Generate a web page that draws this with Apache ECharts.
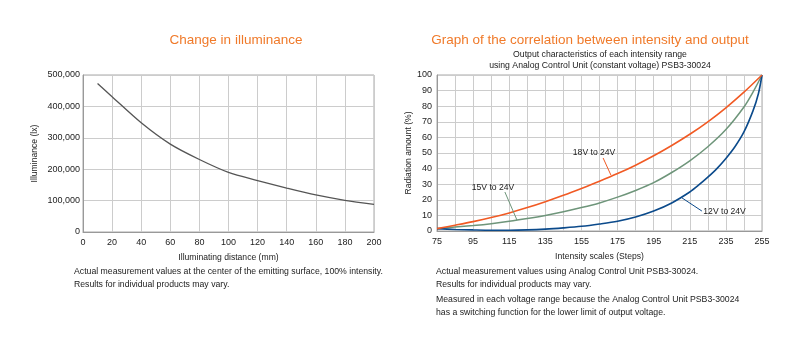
<!DOCTYPE html>
<html><head><meta charset="utf-8">
<script src="https://cdn.jsdelivr.net/npm/echarts@6/dist/echarts.min.js"></script>
<style>html,body{margin:0;padding:0;background:#fff}#c{width:800px;height:348px}</style>
</head><body><div id="c"></div>
<script>
// ---- Left chart data ----
const distance = [10, 20, 40, 60, 80, 100, 120, 140, 160, 180, 200];
const illuminance = [473000, 431000, 348000, 280000, 231000, 190000, 164000, 140000, 118000, 101000, 88000];

// ---- Right chart data ----
const steps18 = [75, 85, 95, 105, 115, 125, 135, 145, 155, 165, 175, 185, 195, 205, 215, 225, 235, 245, 255];
const out18   = [1.5, 3.7, 6.0, 8.6, 11.6, 15.0, 18.8, 22.9, 27.3, 31.9, 36.8, 42.2, 48.2, 54.8, 62, 70, 79, 89, 100];
const steps15 = [75, 85, 95, 105, 115, 125, 135, 145, 155, 165, 175, 185, 195, 205, 215, 225, 235, 245, 250, 255];
const out15   = [1.5, 2.5, 3.5, 4.7, 6.2, 8, 10, 12.3, 15, 18, 21.7, 26, 31, 37.5, 45, 54, 65, 79.5, 89, 100];
const steps12 = [75, 85, 95, 105, 115, 125, 135, 145, 155, 165, 175, 185, 195, 205, 215, 220, 225, 230, 235, 240, 245, 250, 253, 255];
const out12   = [1.5, 1.0, 0.7, 0.5, 0.5, 0.7, 1.2, 2, 3, 4.5, 6.3, 9, 12.8, 18, 25, 29.5, 34.5, 40, 46.5, 54, 63.5, 77, 88, 100];

// annotation anchors in data space: [labelX, labelY, lineStartX, lineStartY, lineEndX, lineEndY]
const ann18 = [162, 50, 167, 46.8, 171.3, 35.9];
const ann15 = [106, 28, 112.6, 25, 119.3, 7];
const ann12 = [222.5, 12.2, 210.7, 21.2, 221.7, 12.8];
const annTexts = ['18V to 24V', '15V to 24V', '12V to 24V'];

const leftTitle = 'Change in illuminance';
const rightTitle = 'Graph of the correlation between intensity and output';
const rightSub = ['Output characteristics of each intensity range', 'using Analog Control Unit (constant voltage) PSB3-30024'];
const notesLeft = ['Actual measurement values at the center of the emitting surface, 100% intensity.', 'Results for individual products may vary.'];
const notesRight = ['Actual measurement values using Analog Control Unit PSB3-30024.', 'Results for individual products may vary.',
  'Measured in each voltage range because the Analog Control Unit PSB3-30024', 'has a switching function for the lower limit of output voltage.'];

const FONT = '"Liberation Sans", Arial, sans-serif';
const ORANGE = '#f15a24', GREEN = '#6e957a', BLUE = '#0b4a8b';
const zip = (a, b) => a.map((v, i) => [v, b[i]]);

const chart = echarts.init(document.getElementById('c'), null, {renderer: 'canvas'});
const axisLabel = {color: '#222', fontSize: 9, fontFamily: FONT};
const nameStyle = {color: '#222', fontSize: 8.6, fontFamily: FONT};

chart.setOption({
  animation: false,
  backgroundColor: '#fff',
  title: [
    {text: leftTitle, left: 231, top: 28, textAlign: 'center', textStyle: {color: '#f07a2a', fontSize: 13.5, fontWeight: 'normal', fontFamily: FONT}},
    {text: rightTitle, left: 585, top: 28, textAlign: 'center', textStyle: {color: '#f07a2a', fontSize: 13.5, fontWeight: 'normal', fontFamily: FONT}}
  ],
  grid: [
    {left: 83, top: 75, width: 291, height: 157, show: true, borderColor: '#a8a8a8', borderWidth: 1, containLabel: false},
    {left: 437, top: 75, width: 325, height: 156, show: true, borderColor: '#a8a8a8', borderWidth: 1, containLabel: false}
  ],
  xAxis: [
    {gridIndex: 0, type: 'value', min: 0, max: 200, interval: 20,
     name: 'Illuminating distance (mm)', nameLocation: 'middle', nameGap: 21, nameTextStyle: nameStyle,
     axisLine: {lineStyle: {color: '#999'}}, axisTick: {show: false},
     axisLabel: Object.assign({margin: 6}, axisLabel),
     splitLine: {lineStyle: {color: '#ccc'}}},
    {gridIndex: 1, type: 'value', min: 75, max: 255, interval: 5,
     name: 'Intensity scales (Steps)', nameLocation: 'middle', nameGap: 21, nameTextStyle: nameStyle,
     axisLine: {lineStyle: {color: '#999'}}, axisTick: {show: false},
     axisLabel: Object.assign({margin: 6, formatter: v => ((v - 75) % 20 === 0 ? String(v) : '')}, axisLabel),
     splitLine: {lineStyle: {color: ['#ccc', 'rgba(0,0,0,0)']}}}
  ],
  yAxis: [
    {gridIndex: 0, type: 'value', min: 0, max: 500000, interval: 100000,
     name: 'Illuminance (lx)', nameLocation: 'middle', nameGap: 44, nameTextStyle: nameStyle,
     axisLine: {show: true, lineStyle: {color: '#999'}}, axisTick: {show: false},
     axisLabel: Object.assign({margin: 3}, axisLabel),
     splitLine: {lineStyle: {color: '#ccc'}}},
    {gridIndex: 1, type: 'value', min: 0, max: 100, interval: 10,
     name: 'Radiation amount (%)', nameLocation: 'middle', nameGap: 23, nameTextStyle: nameStyle,
     axisLine: {show: true, lineStyle: {color: '#999'}}, axisTick: {show: false},
     axisLabel: Object.assign({margin: 5}, axisLabel),
     splitLine: {lineStyle: {color: '#ccc'}}}
  ],
  series: [
    {type: 'line', xAxisIndex: 0, yAxisIndex: 0, data: zip(distance, illuminance), smooth: 0.3, symbol: 'none',
     lineStyle: {color: '#555', width: 1.3}},
    {type: 'line', xAxisIndex: 1, yAxisIndex: 1, data: zip(steps15, out15), smooth: 0.3, symbol: 'none',
     lineStyle: {color: GREEN, width: 1.5}},
    {type: 'line', xAxisIndex: 1, yAxisIndex: 1, data: zip(steps12, out12), smooth: 0.3, symbol: 'none',
     lineStyle: {color: BLUE, width: 1.6}},
    {type: 'line', xAxisIndex: 1, yAxisIndex: 1, data: zip(steps18, out18), smooth: 0.3, symbol: 'none',
     lineStyle: {color: ORANGE, width: 1.6}}
  ]
});

const px = (x, y) => chart.convertToPixel({xAxisIndex: 1, yAxisIndex: 1}, [x, y]);
const graphics = [];
const textStyleSmall = {fill: '#222', fontSize: 8.7, fontFamily: FONT};
// subtitles
rightSub.forEach((t, i) => graphics.push({type: 'text', style: Object.assign({text: t, x: 600, y: 55 + i * 11, textAlign: 'center', textVerticalAlign: 'middle'}, textStyleSmall)}));
// annotations
[[ann18, ORANGE, 'center'], [ann15, GREEN, 'center'], [ann12, BLUE, 'left']].forEach(([a, col, align], i) => {
  const L = px(a[0], a[1]), S = px(a[2], a[3]), E = px(a[4], a[5]);
  graphics.push({type: 'line', shape: {x1: S[0], y1: S[1], x2: E[0], y2: E[1]}, style: {stroke: col, lineWidth: 1}, z: 10});
  graphics.push({type: 'text', style: {text: annTexts[i], x: L[0], y: L[1], textAlign: align, textVerticalAlign: 'middle', fill: '#222', fontSize: 8.6, fontFamily: FONT}, z: 11});
});
// notes
notesLeft.forEach((t, i) => graphics.push({type: 'text', style: Object.assign({text: t, x: 74, y: 272 + i * 13, textVerticalAlign: 'middle'}, textStyleSmall)}));
notesRight.forEach((t, i) => graphics.push({type: 'text', style: Object.assign({text: t, x: 436, y: [272, 285, 300, 313][i], textVerticalAlign: 'middle'}, textStyleSmall)}));
chart.setOption({graphic: graphics});
</script></body></html>
